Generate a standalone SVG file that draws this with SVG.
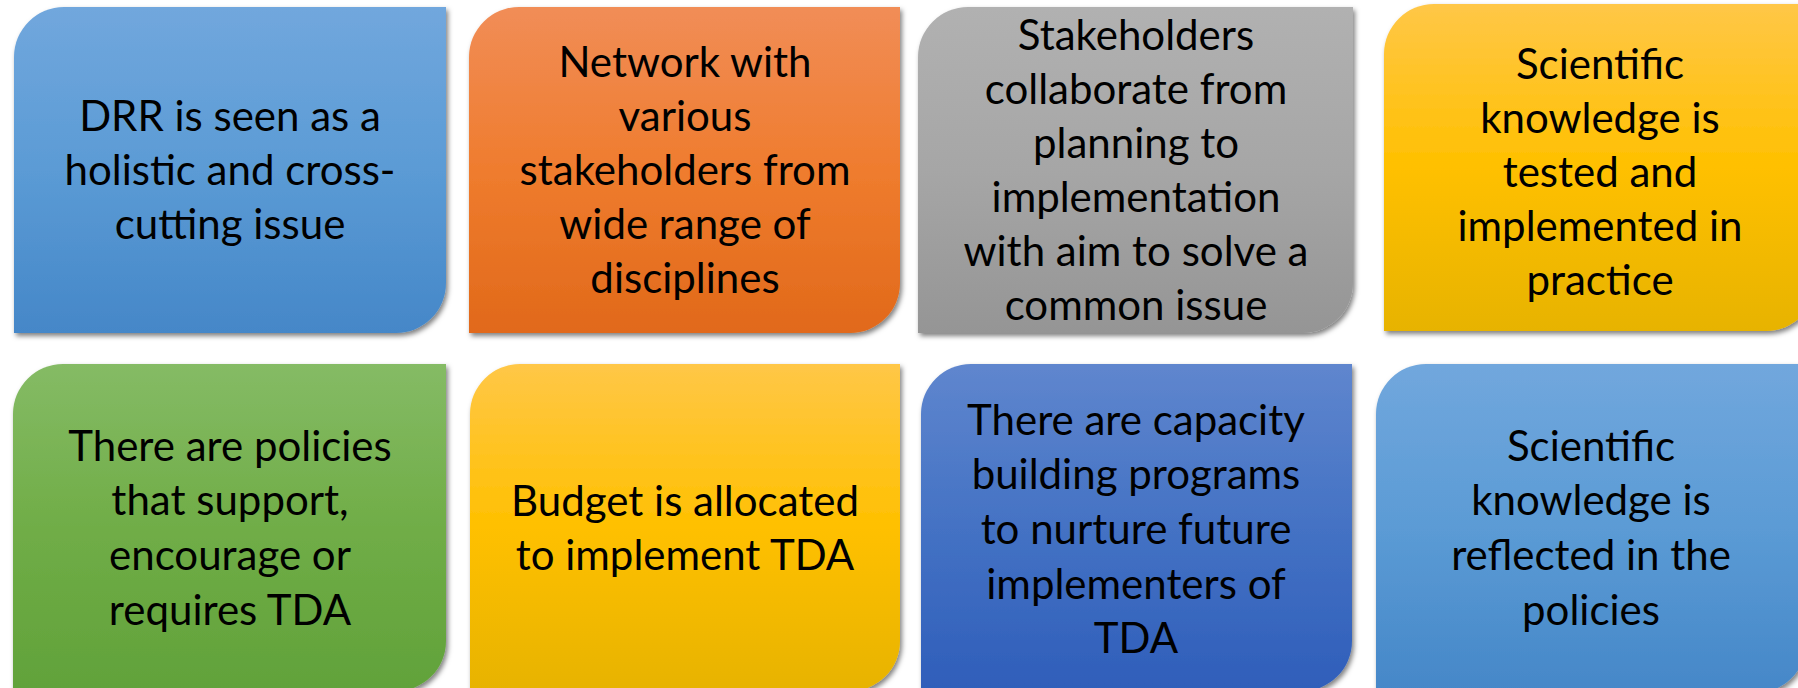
<svg xmlns="http://www.w3.org/2000/svg" width="1798" height="688" viewBox="0 0 1798 688">
  <style>
    .card { filter: url(#shadow); }
    .label { font-family: Lato, "Open Sans", "Liberation Sans", sans-serif; font-size: 42px; fill: #000000; text-anchor: middle; }
  </style>
  <defs>
    <filter id="shadow" x="-5%" y="-5%" width="115%" height="115%">
      <feDropShadow dx="2" dy="3" stdDeviation="2.5" flood-color="#000000" flood-opacity="0.5"/>
    </filter>
    <linearGradient id="gBlue" x1="0" y1="0" x2="0" y2="1">
      <stop offset="0" stop-color="#71a7dd"/>
      <stop offset="0.5" stop-color="#5b9bd5"/>
      <stop offset="1" stop-color="#4587c8"/>
    </linearGradient>
    <linearGradient id="gOrange" x1="0" y1="0" x2="0" y2="1">
      <stop offset="0" stop-color="#f18d57"/>
      <stop offset="0.5" stop-color="#ef7c2e"/>
      <stop offset="1" stop-color="#e1691a"/>
    </linearGradient>
    <linearGradient id="gGray" x1="0" y1="0" x2="0" y2="1">
      <stop offset="0" stop-color="#b1b1b1"/>
      <stop offset="0.5" stop-color="#a6a6a6"/>
      <stop offset="1" stop-color="#959595"/>
    </linearGradient>
    <linearGradient id="gYellow" x1="0" y1="0" x2="0" y2="1">
      <stop offset="0" stop-color="#ffc747"/>
      <stop offset="0.5" stop-color="#ffc000"/>
      <stop offset="1" stop-color="#e7b300"/>
    </linearGradient>
    <linearGradient id="gGreen" x1="0" y1="0" x2="0" y2="1">
      <stop offset="0" stop-color="#85bb65"/>
      <stop offset="0.5" stop-color="#70ad47"/>
      <stop offset="1" stop-color="#61a23a"/>
    </linearGradient>
    <linearGradient id="gNavy" x1="0" y1="0" x2="0" y2="1">
      <stop offset="0" stop-color="#5f86ce"/>
      <stop offset="0.5" stop-color="#4472c4"/>
      <stop offset="1" stop-color="#2f5eba"/>
    </linearGradient>
  </defs>

  <rect width="1798" height="688" fill="#ffffff"/>

  <!-- Row 1 -->
  <g id="node-drr">
    <path class="card" fill="url(#gBlue)" d="M14,57 A50,50 0 0 1 64,7 H446 V283 A50,50 0 0 1 396,333 H14 Z"/>
    <text class="label" x="230" y="131">DRR is seen as a</text>
    <text class="label" x="230" y="185">holistic and cross-</text>
    <text class="label" x="230" y="239">cutting issue</text>
  </g>

  <g id="node-network">
    <path class="card" fill="url(#gOrange)" d="M469,57 A50,50 0 0 1 519,7 H900 V283 A50,50 0 0 1 850,333 H469 Z"/>
    <text class="label" x="685" y="77">Network with</text>
    <text class="label" x="685" y="131">various</text>
    <text class="label" x="685" y="185">stakeholders from</text>
    <text class="label" x="685" y="239">wide range of</text>
    <text class="label" x="685" y="293">disciplines</text>
  </g>

  <g id="node-collaborate">
    <path class="card" fill="url(#gGray)" d="M918,57 A50,50 0 0 1 968,7 H1353 V283 A50,50 0 0 1 1303,333 H918 Z"/>
    <text class="label" x="1136" y="50">Stakeholders</text>
    <text class="label" x="1136" y="104">collaborate from</text>
    <text class="label" x="1136" y="158">planning to</text>
    <text class="label" x="1136" y="212">implementation</text>
    <text class="label" x="1136" y="266">with aim to solve a</text>
    <text class="label" x="1136" y="320">common issue</text>
  </g>

  <g id="node-tested">
    <path class="card" fill="url(#gYellow)" d="M1384,54 A50,50 0 0 1 1434,4 H1816 V281 A50,50 0 0 1 1766,331 H1384 Z"/>
    <text class="label" x="1600" y="79">Scientific</text>
    <text class="label" x="1600" y="133">knowledge is</text>
    <text class="label" x="1600" y="187">tested and</text>
    <text class="label" x="1600" y="241">implemented in</text>
    <text class="label" x="1600" y="295">practice</text>
  </g>

  <!-- Row 2 -->
  <g id="node-policies">
    <path class="card" fill="url(#gGreen)" d="M13,414 A50,50 0 0 1 63,364 H446 V641 A50,50 0 0 1 396,691 H13 Z"/>
    <text class="label" x="230" y="461">There are policies</text>
    <text class="label" x="230" y="515">that support,</text>
    <text class="label" x="230" y="570">encourage or</text>
    <text class="label" x="230" y="625">requires TDA</text>
  </g>

  <g id="node-budget">
    <path class="card" fill="url(#gYellow)" d="M470,414 A50,50 0 0 1 520,364 H900 V641 A50,50 0 0 1 850,691 H470 Z"/>
    <text class="label" x="685" y="516">Budget is allocated</text>
    <text class="label" x="685" y="570">to implement TDA</text>
  </g>

  <g id="node-capacity">
    <path class="card" fill="url(#gNavy)" d="M921,414 A50,50 0 0 1 971,364 H1352 V641 A50,50 0 0 1 1302,691 H921 Z"/>
    <text class="label" x="1136" y="435">There are capacity</text>
    <text class="label" x="1136" y="489">building programs</text>
    <text class="label" x="1136" y="544">to nurture future</text>
    <text class="label" x="1136" y="599">implementers of</text>
    <text class="label" x="1136" y="653">TDA</text>
  </g>

  <g id="node-reflected">
    <path class="card" fill="url(#gBlue)" d="M1376,414 A50,50 0 0 1 1426,364 H1806 V643 A50,50 0 0 1 1756,693 H1376 Z"/>
    <text class="label" x="1591" y="461">Scientific</text>
    <text class="label" x="1591" y="515">knowledge is</text>
    <text class="label" x="1591" y="570">reflected in the</text>
    <text class="label" x="1591" y="625">policies</text>
  </g>

  <!-- No connectors between the cards -->
  <g id="connectors"/>
</svg>
